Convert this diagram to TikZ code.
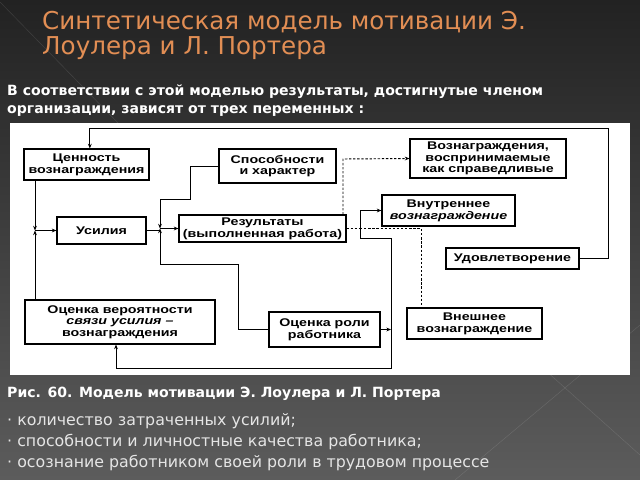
\documentclass[tikz,border=0pt]{standalone}
\usepackage{fontspec}
\setmainfont{DejaVu Sans}
\newfontfamily\boxfont[FakeStretch=1.28]{Liberation Sans}
\usetikzlibrary{arrows.meta}
\definecolor{titleorange}{RGB}{226,142,84}
\definecolor{bgtop}{RGB}{34,34,34}
\definecolor{bgbottom}{RGB}{92,92,92}

\begin{document}
\begin{tikzpicture}[x=0.03cm, y=-0.03cm, >={Stealth[length=4pt,width=3.2pt]},
    size/.style 2 args={minimum width=#1*0.03cm, minimum height=#2*0.03cm},
    box/.style={draw, line width=0.9pt, fill=white, inner sep=0pt, align=center,
        font=\boxfont\bfseries\fontsize{9.5}{10}\selectfont},
    wire/.style={line width=0.8pt},
    dash line/.style={wire, dash pattern=on 2pt off 1.5pt},
    slide text/.style={anchor=base west, inner sep=0pt, text=white}]
    \useasboundingbox (0,0) rectangle (640,480);
    \shade[top color=bgtop, bottom color=bgbottom] (0,0) rectangle (640,480);
    \draw[white, opacity=.12] (0,2) -- (120,125);
    \draw[white, opacity=.12] (455,480) -- (640,325);
    \draw[white, opacity=.12] (545,370) -- (640,455);

    % header
    \node[slide text, text=titleorange, font=\fontsize{21}{24}\selectfont] (title1) at (42,30) {Синтетическая модель мотивации Э.};
    \node[slide text, text=titleorange, font=\fontsize{21}{24}\selectfont] (title2) at (42,55) {Лоулера и Л. Портера};
    \node[slide text, font=\bfseries\fontsize{12}{14}\selectfont] (lead1) at (7,96) {В соответствии с этой моделью результаты, достигнутые членом};
    \node[slide text, font=\bfseries\fontsize{12}{14}\selectfont] (lead2) at (7,114) {организации, зависят от трех переменных :};

    % scheme
    \fill[white] (10,123) rectangle (630,375);
    \node[box, size={125}{31}] (val) at (86.5,164.5) {Ценность\\вознаграждения};
    \node[box, size={117}{34}] (abil) at (277.5,166) {Способности\\и характер};
    \node[box, size={156}{39}] (fair) at (488,158.5) {Вознаграждения,\\воспринимаемые\\как справедливые};
    \node[box, size={89}{27}] (eff) at (101.5,230.5) {Усилия};
    \node[box, size={167}{27}] (res) at (262.5,228.5) {Результаты\\(выполненная работа)};
    \node[box, size={133}{31}] (intr) at (448.5,210.5) {Внутреннее\\\itshape вознаграждение};
    \node[box, size={133}{21}] (sat) at (512.5,258.5) {Удовлетворение};
    \node[box, size={190}{44}] (prob) at (120,322) {Оценка вероятности\\\itshape связи усилия –\\вознаграждения};
    \node[box, size={111}{35}] (role) at (324.5,329.5) {Оценка роли\\работника};
    \node[box, size={135}{31}] (extr) at (474.5,323.5) {Внешнее\\вознаграждение};

    \coordinate (jE) at (35,230.5);
    \coordinate (jR) at (160,228.5);
    \coordinate (jO) at (360,228.5);
    \coordinate (jB) at (391,368);
    \coordinate (jP) at (116,368);
    \coordinate (jX) at (421,228.5);
    \coordinate (jF) at (343,159);
    \coordinate (jT) at (608,128);

    \draw[wire, ->] (sat.east) -| (jT) -| ([xshift=0.1cm]val.north);
    \draw[wire, ->] (val.south -| jE) -- (jE);
    \draw[wire, ->] (prob.north -| jE) -- (jE);
    \draw[wire, ->] (jE) -- (eff.west);
    \draw[wire] (eff.east) -- (eff.east -| jR);
    \draw[wire, ->] (jR) -- (res.west);
    \draw[wire, ->] (abil.west) -| (190,199) -| (jR);
    \draw[wire, ->] (role.west) -| (238,264) -| (jR);
    \draw[dash line] (res.east) -- (jO);
    \draw[wire, ->] (jO) |- (intr.west);
    \draw[wire, ->] (jO) |- (391,238) -- (jB) -- (jP) -- (jP |- prob.south);
    \draw[wire, ->] (role.east) -- (role.east -| jB);
    \draw[dash line] (jO) -- (jX) -- (jX |- extr.north);
    \draw[dash line, ->] (jF |- res.north) -- (jF) -- (fair.west);

    % footer
    \node[slide text, font=\bfseries\fontsize{12}{14}\selectfont] (caption) at (7,397) {Рис. 60. Модель мотивации Э. Лоулера и Л. Портера};
    \node[slide text, text=white!90!black, font=\fontsize{13.5}{16}\selectfont] (item1) at (7,425) {· количество затраченных усилий;};
    \node[slide text, text=white!90!black, font=\fontsize{13.5}{16}\selectfont] (item2) at (7,446) {· способности и личностные качества работника;};
    \node[slide text, text=white!90!black, font=\fontsize{13.5}{16}\selectfont] (item3) at (7,467) {· осознание работником своей роли в трудовом процессе};
\end{tikzpicture}
\end{document}
